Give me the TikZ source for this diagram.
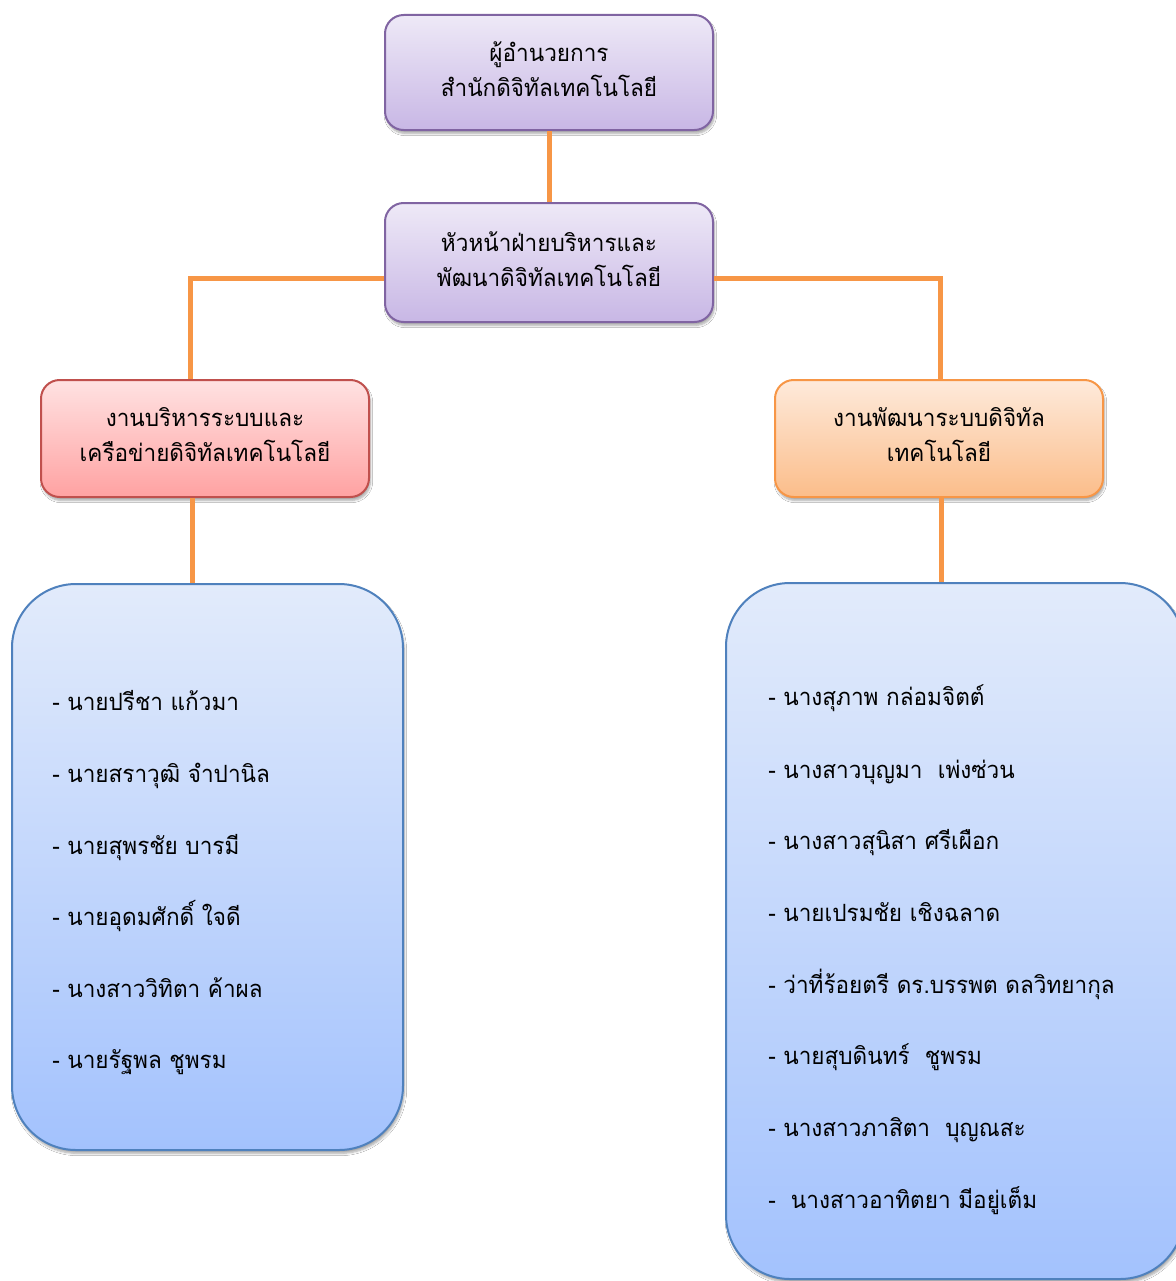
\documentclass[tikz,border=0pt]{standalone}
\usepackage{fontspec}
\newfontfamily\thaifont[Script=Thai, FakeStretch=0.95]{Loma}
\usetikzlibrary{shadows.blur}
\definecolor{linkorange}{HTML}{F79646}
\definecolor{purpleedge}{HTML}{8064A2}
\definecolor{purpletop}{HTML}{EEE9F7}
\definecolor{purplebot}{HTML}{C8B7E5}
\definecolor{rededge}{HTML}{C0504D}
\definecolor{redtop}{HTML}{FFE2E2}
\definecolor{redbot}{HTML}{FFA2A2}
\definecolor{orangeedge}{HTML}{F79646}
\definecolor{orangetop}{HTML}{FEEADB}
\definecolor{orangebot}{HTML}{FBBD8A}
\definecolor{blueedge}{HTML}{4F81BD}
\definecolor{bluetop}{HTML}{E2EBFB}
\definecolor{bluebot}{HTML}{A3C2FD}
\tikzset{
  box/.style={rounded corners=14pt, line width=1.5pt, inner sep=0pt,
    blur shadow={shadow xshift=1pt, shadow yshift=-2.5pt, shadow blur steps=6, shadow opacity=35}},
  headbox/.style={box, draw=purpleedge, top color=purpletop, bottom color=purplebot,
    minimum width={328*0.75pt}},
  redbox/.style={box, draw=rededge, top color=redtop, bottom color=redbot,
    minimum width={328*0.75pt}, minimum height={117*0.75pt}},
  orangebox/.style={box, draw=orangeedge, top color=orangetop, bottom color=orangebot,
    minimum width={328*0.75pt}, minimum height={117*0.75pt}},
  listbox/.style={box, rounded corners=48pt, draw=blueedge, top color=bluetop, bottom color=bluebot},
  title/.style={align=center, inner sep=0pt, font=\thaifont\fontsize{17.8}{26.25}\selectfont},
  entry/.style={anchor=base west, inner sep=0pt, font=\thaifont\fontsize{17.8}{26}\selectfont},
  link/.style={draw=linkorange, line width=3.75pt}
}
\begin{document}
\begin{tikzpicture}[x=0.75pt, y=-0.75pt]
\useasboundingbox[fill=white] (0,0) rectangle (1176,1281);

% boxes
\node[headbox, minimum height={115*0.75pt}] (dir) at (549,72.5) {};
\node[headbox, minimum height={119*0.75pt}] (head) at (549,262.5) {};
\node[redbox] (net) at (205,438.5) {};
\node[orangebox] (dev) at (939,438.5) {};
\node[listbox, minimum width={391*0.75pt}, minimum height={566*0.75pt}] (netlist) at (207.5,867) {};
\node[listbox, minimum width={458*0.75pt}, minimum height={696*0.75pt}] (devlist) at (955,931) {};

% titles
\node[title] (dirt) at (549,69) {ผู้อำนวยการ\\สำนักดิจิทัลเทคโนโลยี};
\node[title] (headt) at (549,259) {หัวหน้าฝ่ายบริหารและ\\พัฒนาดิจิทัลเทคโนโลยี};
\node[title] (nett) at (205,435) {งานบริหารระบบและ\\เครือข่ายดิจิทัลเทคโนโลยี};
\node[title] (devt) at (939,435) {งานพัฒนาระบบดิจิทัล\\เทคโนโลยี};

% connectors
\coordinate (jl) at (190,278);
\coordinate (jr) at (940,278);
\draw[link] (dir.south) -- (head.north);
\draw[link] (head.west |- jl) -- (jl) -- (net.north -| jl);
\draw[link] (head.east |- jr) -- (jr) -- (dev.north -| jr);
\draw[link] (net.south -| 192,0) -- (netlist.north -| 192,0);
\draw[link] (dev.south -| 941,0) -- (devlist.north -| 941,0);

% staff of the network unit
\node[entry] (n1) at (52,710) {- นายปรีชา แก้วมา};
\node[entry] (n2) at (52,782) {- นายสราวุฒิ จำปานิล};
\node[entry] (n3) at (52,854) {- นายสุพรชัย บารมี};
\node[entry] (n4) at (52,925) {- นายอุดมศักดิ์ ใจดี};
\node[entry] (n5) at (52,997) {- นางสาววิทิตา ค้าผล};
\node[entry] (n6) at (52,1068) {- นายรัฐพล ชูพรม};

% staff of the development unit
\node[entry] (d1) at (768,705) {- นางสุภาพ กล่อมจิตต์};
\node[entry] (d2) at (768,778) {- นางสาวบุญมา~ เพ่งซ่วน};
\node[entry] (d3) at (768,849) {- นางสาวสุนิสา ศรีเผือก};
\node[entry] (d4) at (768,921) {- นายเปรมชัย เชิงฉลาด};
\node[entry] (d5) at (768,993) {- ว่าที่ร้อยตรี ดร.บรรพต ดลวิทยากุล};
\node[entry] (d6) at (768,1064) {- นายสุบดินทร์~ ชูพรม};
\node[entry] (d7) at (768,1136) {- นางสาวภาสิตา~ บุญณสะ};
\node[entry] (d8) at (768,1208) {-~ นางสาวอาทิตยา มีอยู่เต็ม};
\end{tikzpicture}
\end{document}
